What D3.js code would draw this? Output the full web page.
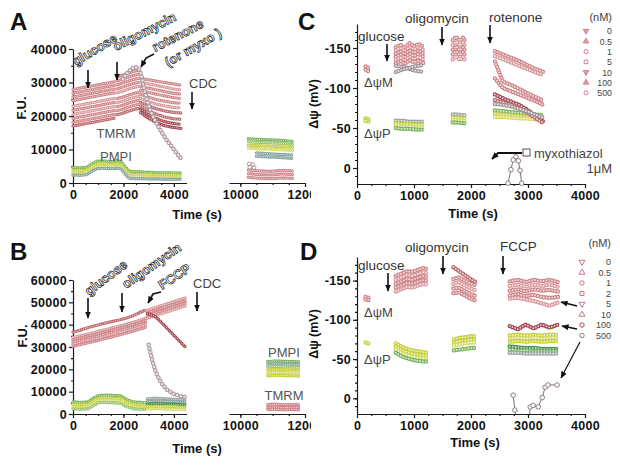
<!DOCTYPE html>
<html><head><meta charset="utf-8">
<script src="https://cdn.jsdelivr.net/npm/d3@7"></script>
<style>body{margin:0;background:#fff}svg{display:block}</style>
</head><body><svg id="chart"></svg>
<script>
// ---------------- DATA ----------------
// Panel A (F.U. vs time, s)
const aT1 = [0, 280, 560, 840, 1120, 1400, 1680];
const aTmrm1 = [
 [27900, 28300, 28700, 29100, 29500, 29900, 30200],
 [26800, 27200, 27600, 28000, 28400, 28800, 29100],
 [25700, 26100, 26500, 26900, 27300, 27700, 28000],
 [24600, 25000, 25400, 25800, 26200, 26600, 26900],
 [22900, 23300, 23700, 24100, 24500, 24900, 25300],
 [21700, 22100, 22500, 22900, 23300, 23700, 24100],
 [20500, 20900, 21300, 21700, 22100, 22500, 22900],
 [19300, 19700, 20100, 20500, 20900, 21300, 21700],
 [18100, 18500, 18900, 19300, 19700, 20100, 20500],
 [17000, 17400, 17800, 18200, 18600, 19000, 19400]];
const aT2 = [1740, 1960, 2180, 2400, 2620];
const aTmrm2 = [
 [31700, 32200, 32800, 33300, 33700],
 [30500, 31000, 31600, 32100, 32500],
 [29300, 29800, 30400, 30900, 31300],
 [28100, 28600, 29200, 29700, 30100],
 [26900, 27400, 28000, 28500, 28900],
 [25200, 25600, 26200, 26700, 27100],
 [24000, 24400, 25000, 25500, 25900],
 [22800, 23200, 23800, 24300, 24700],
 [21600, 22000, 22600, 23100, 23500],
 [20400, 20800, 21400, 21900, 22300]];
const aT3 = [2680, 3000, 3320, 3640, 3960, 4280];
const aTmrm3 = [
 [31200, 30800, 30400, 30000, 29600, 29200],
 [30000, 29600, 29100, 28600, 28100, 27800],
 [28800, 28300, 27800, 27300, 26800, 26500],
 [27600, 27000, 26500, 26000, 25500, 25200],
 [26500, 25600, 24900, 24400, 24000, 23800],
 [25300, 24300, 23500, 23000, 22600, 22400],
 [24100, 23000, 22100, 21500, 21100, 20900],
 [23000, 21600, 20500, 19700, 19200, 19000],
 [22000, 20400, 19200, 18300, 17800, 17500],
 [21000, 19300, 18000, 17100, 16600, 16300]];
const aGrayT = [1980, 2150, 2300, 2450, 2600, 2700, 2800, 2900, 3000, 3150, 3300, 3500, 3700, 3900, 4100, 4280];
const aGrayV = [31000, 32800, 34000, 34700, 34200, 32500, 28800, 25600, 23000, 20200, 18000, 15300, 13000, 11000, 9000, 7300];
const aP1T = [0, 280, 560, 760, 960, 1200, 1450, 1680];
const aPmpi1 = [
 [4600, 4500, 4700, 5800, 6500, 6600, 6400, 6400],
 [3800, 3700, 3900, 5000, 5700, 5800, 5600, 5700],
 [3000, 2900, 3100, 4200, 4900, 5000, 4800, 4900],
 [2400, 2300, 2500, 3600, 4300, 4400, 4300, 4300]];
const aP2T = [1740, 1900, 2060, 2220, 2400, 2620];
const aPmpi2 = [
 [6700, 6400, 4900, 3600, 3400, 3400],
 [5900, 5600, 4100, 2800, 2600, 2600],
 [5100, 4800, 3300, 2000, 1900, 1900],
 [4500, 4200, 2700, 1400, 1300, 1300]];
const aP3T = [2680, 3000, 3320, 3640, 3960, 4280];
const aPmpi3 = [
 [3300, 3200, 3100, 3100, 3000, 3000],
 [2600, 2500, 2400, 2400, 2400, 2300],
 [1900, 1800, 1700, 1700, 1700, 1600],
 [1300, 1200, 1200, 1100, 1100, 1100]];
const aLateT = [10250, 10600, 10950, 11300, 11650];
const aLatePmpi = [
 [13200, 13000, 12900, 12700, 12400],
 [12300, 12100, 12000, 11800, 11500],
 [11300, 11100, 11000, 10800, 10600],
 [10400, 10200, 10100, 9900, 9700]];
const aLateTealT = [10500, 10800, 11100, 11400, 11650];
const aLateTeal = [[9000, 8800, 8600, 8500, 8300], [8000, 7800, 7700, 7500, 7300]];
const aLateTmrm = [[3900, 3600, 3500, 3800, 3600], [2800, 2500, 2400, 2700, 2500], [1700, 1400, 1300, 1500, 1400]];
const aLateGrayT = [10280, 10380, 10300, 10420];
const aLateGrayV = [5700, 5500, 4700, 4600];

// Panel B
const bT1 = [0, 300, 600, 900, 1200, 1500, 1800, 2100, 2400, 2700, 2900];
const bTop = [36600, 37600, 38700, 39600, 40500, 41300, 42000, 42900, 44100, 45700, 46700];
const bBand1 = [
 [34300, 35100, 35900, 36700, 37600, 38400, 39300, 40200, 41100, 42200, 43000],
 [33300, 34100, 34900, 35700, 36600, 37400, 38300, 39200, 40100, 41200, 42000],
 [32300, 33100, 33900, 34700, 35600, 36400, 37300, 38200, 39100, 40200, 41000],
 [31300, 32100, 32900, 33700, 34600, 35400, 36300, 37200, 38100, 39200, 40000],
 [30300, 31100, 31900, 32700, 33600, 34400, 35300, 36200, 37100, 38200, 39000]];
const bT2 = [2950, 3250, 3550, 3850, 4150, 4450];
const bBand2 = [
 [46500, 47600, 48700, 49800, 50900, 52000],
 [45300, 46400, 47500, 48600, 49700, 50800],
 [44100, 45200, 46300, 47400, 48500, 49600],
 [42900, 44000, 45100, 46200, 47300, 48400]];
const bDrop = [45000, 43800, 40500, 37000, 33500, 30000];
const bGrayT = [3000, 3130, 3290, 3490, 3730, 4000, 4250, 4450];
const bGrayV = [31000, 24500, 18500, 14000, 10800, 9000, 8000, 7500];
const bPT1 = [0, 300, 600, 800, 1000, 1300, 1600, 1900, 2100, 2400, 2700, 2900];
const bPmpi1 = [
 [5400, 5200, 5400, 7000, 8300, 8500, 8300, 8100, 6600, 5400, 5200, 5200],
 [4300, 4100, 4300, 5800, 7100, 7300, 7100, 6900, 5500, 4300, 4100, 4100],
 [3200, 3000, 3200, 4700, 6000, 6200, 6000, 5800, 4400, 3200, 3000, 3000],
 [2300, 2100, 2300, 3700, 5000, 5200, 5000, 4800, 3400, 2300, 2100, 2100]];
const bPmpi2 = [
 [6800, 7100, 6900, 6700, 6500, 6300],
 [5600, 5800, 5700, 5500, 5400, 5200],
 [4400, 4700, 4600, 4400, 4300, 4100],
 [3300, 3500, 3400, 3300, 3200, 3000],
 [2200, 2400, 2300, 2200, 2100, 2000]];
const bLateT = [10850, 11100, 11350, 11600, 11850];
const bLatePmpi = [
 [23500, 23800, 23600, 23500, 23400],
 [22300, 22600, 22400, 22300, 22200],
 [21000, 21300, 21100, 21000, 20900],
 [19700, 20000, 19800, 19700, 19600],
 [18400, 18700, 18500, 18400, 18300],
 [17100, 17400, 17200, 17100, 17000]];
const bLateTmrm = [[4300, 4400, 4200, 4300, 4200], [3000, 3100, 2900, 3000, 2900], [2000, 2100, 1900, 2000, 1900]];

// Panel C (mV vs time, s)
const cInitT = [150, 200];
const cInitM = [[-127, -125], [-123, -121]];
const cInitP = [[-62, -61], [-59, -58]];
const cT1 = [680, 760, 840, 920, 1000, 1080, 1170];
const cM1 = [
 [-151, -154, -150, -156, -152, -155, -151],
 [-147, -150, -146, -151, -148, -151, -147],
 [-143, -146, -142, -147, -144, -147, -143],
 [-139, -142, -138, -143, -140, -143, -139],
 [-135, -138, -134, -139, -136, -139, -135],
 [-131, -134, -130, -135, -132, -134, -131]];
const cX1 = [[-128, -127, -126, -124, -122, -121, -120], [-120, -122, -124, -125, -127, -128, -129]];
const cT2 = [1680, 1740, 1800, 1860, 1900];
const cM2 = [
 [-160, -164, -159, -163, -158],
 [-154, -158, -153, -157, -152],
 [-148, -152, -147, -151, -146],
 [-142, -146, -141, -145, -140],
 [-136, -140, -135, -139, -134]];
const cT3 = [2420, 2560, 2700, 2840, 2980, 3120, 3270];
const cM3 = [
 [-146, -142, -138, -134, -129, -124, -120],
 [-140, -136, -132, -128, -124, -120, -116],
 [-133, -108, -104, -99, -94, -89, -84],
 [-112, -100, -96, -92, -88, -84, -79],
 [-92, -87, -83, -79, -73, -66, -58],
 [-85, -82, -79, -75, -70, -63, -56],
 [-80, -79, -77, -74, -71, -67, -63]];
const cPT1 = [680, 800, 920, 1040, 1170];
const cP1 = [[-59, -59, -58, -58, -58], [-56, -55, -55, -54, -54], [-53, -52, -52, -51, -51], [-50, -49, -49, -48, -48]];
const cPT2 = [1680, 1760, 1840, 1900];
const cP2 = [[-67, -67, -66, -66], [-63, -63, -62, -62], [-60, -60, -59, -59], [-57, -57, -56, -56]];
const cP3 = [[-72, -71, -70, -69, -68, -67, -66], [-68, -67, -66, -65, -64, -63, -63], [-64, -64, -63, -62, -62, -61, -61]];
const cMyxoT = [2650, 2700, 2740, 2790, 2830, 2860, 2890];
const cMyxoV = [19, 2, -10, -14, -9, 3, 19];
const cLegend = ["0", "0.5", "1", "5", "10", "100", "500"];

// Panel D
const dInitT = [150, 200];
const dInitM = [[-129, -128], [-126, -125]];
const dInitP = [[-71, -70]];
const dT1 = [680, 780, 880, 980, 1080, 1180, 1250];
const dM1 = [
 [-156, -159, -162, -161, -164, -166, -164],
 [-151, -154, -157, -156, -159, -161, -159],
 [-146, -149, -152, -151, -154, -156, -154],
 [-141, -144, -147, -146, -149, -151, -149],
 [-136, -139, -142, -141, -144, -146, -144]];
const dT2 = [1690, 1790, 1890, 1990, 2100];
const dTop2 = [-167, -162, -157, -152, -147];
const dM2 = [
 [-152, -154, -150, -146, -144],
 [-146, -148, -144, -140, -137],
 [-140, -141, -137, -133, -130],
 [-134, -135, -131, -127, -124]];
const dPT1 = [680, 800, 920, 1040, 1160, 1250];
const dP1 = [[-70, -65, -62, -60, -59, -58], [-66, -61, -58, -56, -55, -54], [-62, -57, -54, -52, -51, -51], [-58, -53, -50, -48, -47, -47]];
const dPT2 = [1700, 1800, 1900, 2000, 2100];
const dP2 = [[-75, -77, -78, -79, -79], [-71, -73, -74, -75, -75], [-67, -69, -70, -71, -71], [-61, -62, -63, -64, -64]];
const dT3 = [2680, 2820, 2960, 3100, 3240, 3380, 3530];
const dM3 = [
 [-149, -151, -148, -151, -149, -151, -148],
 [-143, -145, -142, -145, -143, -145, -142],
 [-137, -139, -136, -139, -137, -138, -136],
 [-131, -133, -130, -132, -129, -128, -129],
 [-127, -128, -126, -124, -121, -118, -122]];
const dDark3 = [-92, -88, -94, -89, -94, -90, -94];
const dP3 = [
 [-80, -81, -80, -81, -80, -81, -81],
 [-76, -77, -76, -77, -76, -77, -77],
 [-72, -73, -72, -73, -72, -73, -73],
 [-66, -65, -64, -64, -63, -63, -63],
 [-62, -61, -61, -60, -60, -60, -60],
 [-58, -58, -57, -57, -57, -57, -57]];
const d500T = [2740, 2770, 2800, 3010, 3040, 3090, 3180, 3250, 3300, 3350, 3510];
const d500V = [-4, 15, 35, 35, 11, 9, 11, -1, -14, -17, -17];
const dLegend = ["0", "0.5", "1", "2", "5", "10", "100", "500"];

// ---------------- STYLE ----------------
const F = '"Liberation Sans", Arial, Helvetica, sans-serif';
const pink = '#cf868a', pinkL = '#d99b9e', mid = '#bd6a70', dark = '#a4474f', grayH = '#a6959b';
const green = '#7ab55e', dgreen = '#3f8d4d', yellow = '#c5cf3b', yellowL = '#d6d96b', teal = '#86a4a1', grayP = '#9aa4a3';
const SA = {w: 3.4, s: 2.2, h: 1.2};
const SC = {w: 4.4, s: 2.9, h: 1.9};
const SG = {w: 4.6, s: 3.8, h: 2.6};

const W = 620, H = 469;
const svg = d3.select('#chart').attr('width', W).attr('height', H);
const defs = svg.append('defs');
defs.append('clipPath').attr('id', 'clipL').append('rect').attr('x', 0).attr('y', 0).attr('width', 311).attr('height', H);
defs.append('clipPath').attr('id', 'clipD').append('rect').attr('x', 357).attr('y', 250).attr('width', 240).attr('height', 164);
defs.append('marker').attr('id', 'ah').attr('viewBox', '0 0 7 6').attr('refX', 6.5).attr('refY', 3)
  .attr('markerWidth', 7).attr('markerHeight', 6).attr('markerUnits', 'userSpaceOnUse').attr('orient', 'auto')
  .append('path').attr('d', 'M0,0L7,3L0,6z').attr('fill', '#111');

function trace(g, xs, ys, T, V, c, st) {
  const line = d3.line().x((d, i) => xs(T[i])).y(d => ys(d));
  const d = line(V);
  g.append('path').attr('d', d).attr('fill', 'none').attr('stroke', c).attr('stroke-width', st.w)
    .attr('stroke-linecap', 'round').attr('stroke-dasharray', `0 ${st.s}`);
  if (st.h) g.append('path').attr('d', d).attr('fill', 'none').attr('stroke', '#fff').attr('stroke-width', st.h)
    .attr('stroke-linecap', 'round').attr('stroke-dasharray', `0 ${st.s}`).attr('opacity', 0.75);
}
function txt(g, x, y, s, o = {}) {
  return g.append('text').attr('x', x).attr('y', y).text(s).attr('font-family', F)
    .attr('font-size', o.fs || 13).attr('font-weight', o.fw || 'normal').attr('fill', o.c || '#333')
    .attr('text-anchor', o.a || 'start');
}
function rtext(g, x, y, ang, s, fs) {
  g.append('text').attr('transform', `translate(${x},${y}) rotate(${ang})`).text(s)
    .attr('font-family', F).attr('font-size', fs).attr('font-weight', 'bold')
    .attr('fill', '#fff').attr('stroke', '#1a1a1a').attr('stroke-width', 0.7);
}
function vtext(g, x, y, s, fs) {
  g.append('text').attr('transform', `translate(${x},${y}) rotate(-90)`).text(s).attr('text-anchor', 'middle')
    .attr('font-family', F).attr('font-size', fs).attr('font-weight', 'bold').attr('fill', '#111');
}
function arrow(g, pts, w) {
  g.append('path').attr('d', d3.line()(pts)).attr('fill', 'none').attr('stroke', '#111')
    .attr('stroke-width', w || 1.6).attr('marker-end', 'url(#ah)');
}
function styleAx(ga, fs) {
  ga.attr('font-family', F).attr('font-size', fs).attr('font-weight', 'bold');
  ga.selectAll('path,line').attr('stroke', '#1a1a1a').attr('stroke-width', 1.2);
  ga.selectAll('text').attr('fill', '#111').attr('letter-spacing', 0.3);
}
function axLeft(g, x0, y, major, minor, fmt) {
  const a = g.append('g').attr('transform', `translate(${x0},0)`)
    .call(d3.axisLeft(y).tickValues(major).tickSize(4).tickSizeOuter(0).tickPadding(2).tickFormat(fmt));
  styleAx(a, 12.5);
  const m = g.append('g').attr('transform', `translate(${x0},0)`)
    .call(d3.axisLeft(y).tickValues(minor).tickSize(2).tickFormat(''));
  m.select('.domain').remove(); styleAx(m, 12.5);
}
function axBottom(g, y0, x, major, minor, fmt) {
  const a = g.append('g').attr('transform', `translate(0,${y0})`)
    .call(d3.axisBottom(x).tickValues(major).tickSize(4).tickSizeOuter(0).tickPadding(3).tickFormat(fmt));
  styleAx(a, 12.5);
  const m = g.append('g').attr('transform', `translate(0,${y0})`)
    .call(d3.axisBottom(x).tickValues(minor).tickSize(2).tickFormat(''));
  m.select('.domain').remove(); styleAx(m, 12.5);
}
const fmtD = d3.format('d');
const fmtS = d => String(d);

// ---------------- PANEL A ----------------
const gA = svg.append('g').attr('clip-path', 'url(#clipL)');
const xA1 = d3.scaleLinear().domain([0, 4500]).range([73, 186.5]);
const xA2 = d3.scaleLinear().domain([9650, 12000]).range([229, 305]);
const yA = d3.scaleLinear().domain([0, 40000]).range([183, 49]);
axLeft(gA, 73, yA, d3.range(0, 40001, 10000), d3.range(5000, 40000, 10000), fmtD);
axBottom(gA, 183, xA1, [0, 2000, 4000], d3.range(500, 4500, 500), fmtD);
axBottom(gA, 183, xA2, [10000, 12000], d3.range(10000, 12000, 500), fmtD);
const cTm1 = [pink, pink, pink, pink, pinkL, pink, pinkL, pink, pink, mid];
aTmrm1.forEach((v, i) => trace(gA, xA1, yA, aT1, v, cTm1[i], SA));
aTmrm2.forEach((v, i) => trace(gA, xA1, yA, aT2, v, cTm1[i], SA));
const cTm3 = [pink, pinkL, pink, pink, pink, pinkL, mid, mid, dark, dark];
aTmrm3.forEach((v, i) => trace(gA, xA1, yA, aT3, v, cTm3[i], SA));
const cPm = [green, yellow, yellowL, teal];
aPmpi1.forEach((v, i) => trace(gA, xA1, yA, aP1T, v, cPm[i], SA));
aPmpi2.forEach((v, i) => trace(gA, xA1, yA, aP2T, v, cPm[i], SA));
aPmpi3.forEach((v, i) => trace(gA, xA1, yA, aP3T, v, cPm[i], SA));
trace(gA, xA1, yA, aGrayT, aGrayV, grayH, SG);
const cLate = [green, '#9cc573', yellow, yellowL];
aLatePmpi.forEach((v, i) => trace(gA, xA2, yA, aLateT, v, cLate[i], SA));
aLateTeal.forEach(v => trace(gA, xA2, yA, aLateTealT, v, teal, SA));
aLateTmrm.forEach(v => trace(gA, xA2, yA, aLateT, v, pink, SA));
gA.selectAll('.lg').data(aLateGrayT).enter().append('circle')
  .attr('cx', (d, i) => xA2(d)).attr('cy', (d, i) => yA(aLateGrayV[i])).attr('r', 2)
  .attr('fill', 'none').attr('stroke', grayH).attr('stroke-width', 0.9);
// annotations A
txt(gA, 116, 138, 'TMRM', {a: 'middle', c: '#555', fs: 13});
txt(gA, 116, 161, 'PMPI', {a: 'middle', c: '#555', fs: 13});
rtext(gA, 76, 66, -31, 'glucose', 13);
rtext(gA, 116, 51, -27, 'oligomycin', 13);
rtext(gA, 155, 52, -27, 'rotenone', 13);
rtext(gA, 168, 67, -30, '(or myxo )', 13);
arrow(gA, [[88, 70], [88, 88]]);
arrow(gA, [[117, 62], [117, 80]]);
arrow(gA, [[154, 54], [146, 58], [141, 67]]);
txt(gA, 189, 88, 'CDC', {c: '#444', fs: 13});
arrow(gA, [[192, 92], [192, 109]]);
vtext(gA, 26, 108, 'F.U.', 13);
txt(gA, 197, 219, 'Time (s)', {a: 'middle', fw: 'bold', fs: 13, c: '#111'});
txt(gA, 10, 30, 'A', {fw: 'bold', fs: 24, c: '#111'});

// ---------------- PANEL B ----------------
const gB = svg.append('g').attr('clip-path', 'url(#clipL)');
const yB = d3.scaleLinear().domain([0, 60000]).range([414, 280]);
axLeft(gB, 73, yB, d3.range(0, 60001, 10000), d3.range(5000, 60000, 10000), fmtD);
axBottom(gB, 414, xA1, [0, 2000, 4000], d3.range(500, 4500, 500), fmtD);
axBottom(gB, 414, xA2, [10000, 12000], d3.range(10000, 12000, 500), fmtD);
const cBb = [pinkL, pink, pink, pinkL, pink];
bBand1.forEach((v, i) => trace(gB, xA1, yB, bT1, v, cBb[i], SA));
trace(gB, xA1, yB, bT1, bTop, mid, SA);
bBand2.forEach((v, i) => trace(gB, xA1, yB, bT2, v, cBb[i], SA));
trace(gB, xA1, yB, bT2, bDrop, dark, SA);
const cBp1 = [green, yellow, yellowL, '#9cc573'];
bPmpi1.forEach((v, i) => trace(gB, xA1, yB, bPT1, v, cBp1[i], SA));
const cBp2 = [grayP, teal, dgreen, yellow, yellowL];
bPmpi2.forEach((v, i) => trace(gB, xA1, yB, bT2, v, cBp2[i], SA));
trace(gB, xA1, yB, bGrayT, bGrayV, grayH, SG);
const cBl = [green, teal, '#9cc573', yellow, yellowL, yellow];
bLatePmpi.forEach((v, i) => trace(gB, xA2, yB, bLateT, v, cBl[i], SA));
bLateTmrm.forEach(v => trace(gB, xA2, yB, bLateT, v, pink, SA));
txt(gB, 284, 357, 'PMPI', {a: 'middle', c: '#555', fs: 13});
txt(gB, 284, 400, 'TMRM', {a: 'middle', c: '#555', fs: 13});
rtext(gB, 89, 296, -37, 'glucose', 13);
rtext(gB, 126, 289, -35, 'oligomycin', 13);
rtext(gB, 162, 290, -33, 'FCCP', 13);
arrow(gB, [[88, 298], [88, 318]]);
arrow(gB, [[122, 293], [122, 312]]);
arrow(gB, [[161, 292], [153, 294], [148, 303]]);
txt(gB, 193, 288, 'CDC', {c: '#444', fs: 13});
arrow(gB, [[197, 292], [197, 311]]);
vtext(gB, 27, 336, 'F.U.', 13);
txt(gB, 197, 453, 'Time (s)', {a: 'middle', fw: 'bold', fs: 13, c: '#111'});
txt(gB, 10, 260, 'B', {fw: 'bold', fs: 24, c: '#111'});

// ---------------- PANEL C ----------------
const gC = svg.append('g');
const xC = d3.scaleLinear().domain([0, 4000]).range([357, 585]);
const yC = d3.scaleLinear().domain([20, -180]).range([184, 24]);
axLeft(gC, 357, yC, [0, -50, -100, -150], d3.range(10, -180, -10), fmtS);
axBottom(gC, 184, xC, [0, 1000, 2000, 3000, 4000], d3.range(250, 4000, 250), fmtD);
cInitM.forEach(v => trace(gC, xC, yC, cInitT, v, pink, SC));
cInitP.forEach(v => trace(gC, xC, yC, cInitT, v, yellow, SC));
const cCm = [pink, pinkL, pink, pink, pinkL, pink];
cM1.forEach((v, i) => trace(gC, xC, yC, cT1, v, cCm[i], SC));
cX1.forEach(v => trace(gC, xC, yC, cT1, v, grayH, SC));
cM2.forEach((v, i) => trace(gC, xC, yC, cT2, v, cCm[i], SC));
const cCp = [grayP, yellow, yellowL, green];
cP1.forEach((v, i) => trace(gC, xC, yC, cPT1, v, cCp[i], SC));
cP2.forEach((v, i) => trace(gC, xC, yC, cPT2, v, cCp[i], SC));
const cCp3 = [green, yellow, yellowL];
cP3.forEach((v, i) => trace(gC, xC, yC, cT3, v, cCp3[i], SC));
const cC3 = [pink, pinkL, pink, pink, dark, mid, grayH];
cM3.forEach((v, i) => trace(gC, xC, yC, cT3, v, cC3[i], SC));
gC.append('path').attr('d', d3.line().x((d, i) => xC(cMyxoT[i])).y(d => yC(d))(cMyxoV))
  .attr('fill', 'none').attr('stroke', '#6e5f65').attr('stroke-width', 0.9);
gC.selectAll('.myx').data(cMyxoV).enter().append('circle')
  .attr('cx', (d, i) => xC(cMyxoT[i])).attr('cy', d => yC(d)).attr('r', 2.3)
  .attr('fill', '#fff').attr('stroke', '#8c7c82').attr('stroke-width', 1);
txt(gC, 358, 41, 'glucose', {fs: 13.5});
arrow(gC, [[387, 44], [387, 61]]);
txt(gC, 405, 23, 'oligomycin', {fs: 13.5});
arrow(gC, [[442, 27], [442, 45]]);
txt(gC, 489, 22, 'rotenone', {fs: 13.5});
arrow(gC, [[490, 25], [490, 43]]);
txt(gC, 364, 87, 'ΔψM', {fs: 13, c: '#444'});
txt(gC, 364, 138, 'ΔψP', {fs: 13, c: '#444'});
txt(gC, 612, 21, '(nM)', {a: 'end', fs: 11, c: '#444'});
const symC = [d3.symbolTriangle, d3.symbolTriangle, d3.symbolCircle, d3.symbolSquare, d3.symbolTriangle, d3.symbolTriangle, d3.symbolCircle];
const rotC = [180, 0, 0, 0, 180, 0, 0];
cLegend.forEach((s, i) => {
  const yy = 31 + i * 10.3;
  gC.append('path').attr('d', d3.symbol().type(symC[i]).size(13)())
    .attr('transform', `translate(586,${yy}) rotate(${rotC[i]})`)
    .attr('fill', i === 2 || i === 3 || i === 6 ? 'none' : '#e3a7a9').attr('stroke', '#c8747a').attr('stroke-width', 0.9);
  txt(gC, 612, yy + 3.3, s, {a: 'end', fs: 8.8, c: '#444'});
});
gC.append('rect').attr('x', 523).attr('y', 149).attr('width', 7).attr('height', 7)
  .attr('fill', 'none').attr('stroke', '#555').attr('stroke-width', 1);
txt(gC, 534, 158, 'myxothiazol', {fs: 13, c: '#444'});
txt(gC, 612, 173, '1μM', {a: 'end', fs: 13, c: '#444'});
arrow(gC, [[522, 153], [498, 153], [492, 159]], 1.8);
vtext(gC, 318, 104, 'Δψ (mV)', 12.5);
txt(gC, 473, 218, 'Time (s)', {a: 'middle', fw: 'bold', fs: 13, c: '#111'});
txt(gC, 298, 30, 'C', {fw: 'bold', fs: 24, c: '#111'});

// ---------------- PANEL D ----------------
const gD = svg.append('g');
const yD = d3.scaleLinear().domain([20, -180]).range([414, 257]);
axLeft(gD, 357, yD, [0, -50, -100, -150], d3.range(10, -180, -10), fmtS);
axBottom(gD, 414, xC, [0, 1000, 2000, 3000, 4000], d3.range(250, 4000, 250), fmtD);
dInitM.forEach(v => trace(gD, xC, yD, dInitT, v, pink, SC));
dInitP.forEach(v => trace(gD, xC, yD, dInitT, v, yellow, SC));
const cDm = [pink, pinkL, pink, pink, pinkL];
dM1.forEach((v, i) => trace(gD, xC, yD, dT1, v, cDm[i], SC));
dM2.forEach((v, i) => trace(gD, xC, yD, dT2, v, cDm[i], SC));
trace(gD, xC, yD, dT2, dTop2, mid, SC);
const cDp = [yellow, yellow, yellowL, green];
dP1.forEach((v, i) => trace(gD, xC, yD, dPT1, v, cDp[i], SC));
dP2.forEach((v, i) => trace(gD, xC, yD, dPT2, v, cDp[i], SC));
dM3.forEach((v, i) => trace(gD, xC, yD, dT3, v, cDm[i], SC));
trace(gD, xC, yD, dT3, dDark3, dark, SC);
const cDp3 = [yellow, yellowL, yellow, dgreen, green, grayP];
dP3.forEach((v, i) => trace(gD, xC, yD, dT3, v, cDp3[i], SC));
const g500 = gD.append('g').attr('clip-path', 'url(#clipD)');
g500.append('path').attr('d', d3.line().x((d, i) => xC(d500T[i])).y(d => yD(d))(d500V))
  .attr('fill', 'none').attr('stroke', '#6e5f65').attr('stroke-width', 0.9);
g500.selectAll('.p500').data(d500V).enter().append('circle')
  .attr('cx', (d, i) => xC(d500T[i])).attr('cy', d => yD(d)).attr('r', 2.3)
  .attr('fill', '#fff').attr('stroke', '#8c7c82').attr('stroke-width', 1);
txt(gD, 358, 270, 'glucose', {fs: 13.5});
arrow(gD, [[388, 273], [388, 291]]);
txt(gD, 405, 252, 'oligomycin', {fs: 13.5});
arrow(gD, [[443, 256], [443, 274]]);
txt(gD, 500, 251, 'FCCP', {fs: 13.5});
arrow(gD, [[503, 256], [503, 274]]);
txt(gD, 364, 317, 'ΔψM', {fs: 13, c: '#444'});
txt(gD, 364, 364, 'ΔψP', {fs: 13, c: '#444'});
txt(gD, 611, 247, '(nM)', {a: 'end', fs: 11, c: '#444'});
const symD = [d3.symbolTriangle, d3.symbolTriangle, d3.symbolCircle, d3.symbolSquare, d3.symbolTriangle, d3.symbolTriangle, d3.symbolCircle, d3.symbolCircle];
const rotD = [180, 0, 0, 0, 180, 0, 0, 0];
const colD = ['#c8747a', '#c8747a', '#c8747a', '#c8747a', '#c8747a', '#c8747a', '#a4474f', '#8c7c82'];
dLegend.forEach((s, i) => {
  const yy = 262 + i * 10.5;
  gD.append('path').attr('d', d3.symbol().type(symD[i]).size(15)())
    .attr('transform', `translate(582,${yy}) rotate(${rotD[i]})`)
    .attr('fill', 'none').attr('stroke', colD[i]).attr('stroke-width', 1);
  txt(gD, 611, yy + 3.4, s, {a: 'end', fs: 9, c: '#444'});
});
arrow(gD, [[577, 306], [561, 302]], 1.5);
arrow(gD, [[577, 329], [562, 326]], 1.5);
arrow(gD, [[580, 342], [561, 378]], 1.2);
vtext(gD, 318, 334, 'Δψ (mV)', 12.5);
txt(gD, 475, 447, 'Time (s)', {a: 'middle', fw: 'bold', fs: 13, c: '#111'});
txt(gD, 300, 260, 'D', {fw: 'bold', fs: 24, c: '#111'});
</script></body></html>
